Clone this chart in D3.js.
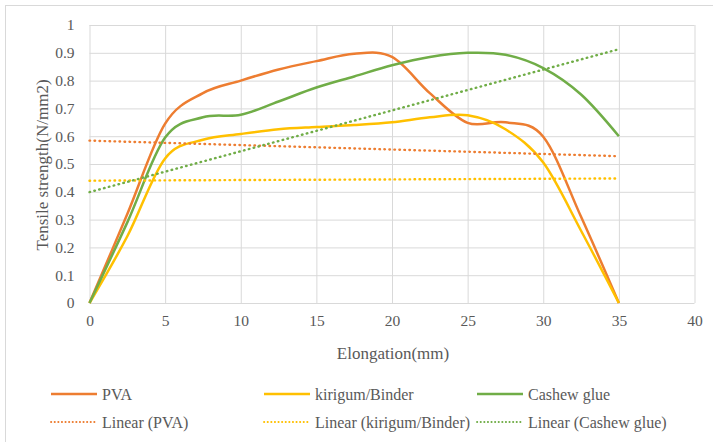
<!DOCTYPE html>
<html>
<head>
<meta charset="utf-8">
<script src="https://cdn.jsdelivr.net/npm/d3@7"></script>
<style>
  body { margin: 0; background: #fff; }
  svg text { font-family: "Liberation Serif", "Times New Roman", Times, "DejaVu Serif", serif; fill: #595959; }
</style>
</head>
<body>
<svg width="713" height="442"></svg>
<script>
// elongation (mm) sample points, shared by the three measured series
const elongation = [0, 2.5, 5, 7.5, 10, 12.5, 15, 17.5, 20, 22.5, 25, 27.5, 30, 32.5, 35];
const pva =     [0, 0.32, 0.645, 0.755, 0.80, 0.84, 0.87, 0.897, 0.885, 0.755, 0.648, 0.65, 0.598, 0.31, 0];
const kirigum = [0, 0.24, 0.52, 0.587, 0.608, 0.625, 0.633, 0.64, 0.65, 0.668, 0.675, 0.625, 0.505, 0.26, 0];
const cashew =  [0, 0.29, 0.595, 0.668, 0.677, 0.725, 0.775, 0.815, 0.855, 0.885, 0.90, 0.893, 0.845, 0.75, 0.60];

// linear trend lines, read at x = 0 and x = 35
const trendX = [0, 35];
const trendPva = [0.584, 0.528];
const trendKirigum = [0.44, 0.448];
const trendCashew = [0.399, 0.913];

const xTicks = [0, 5, 10, 15, 20, 25, 30, 35, 40];
const yTicks = [0, 0.1, 0.2, 0.3, 0.4, 0.5, 0.6, 0.7, 0.8, 0.9, 1];

const seriesNames = ['PVA', 'kirigum/Binder', 'Cashew glue'];
const trendNames = ['Linear (PVA)', 'Linear (kirigum/Binder)', 'Linear (Cashew glue)'];
const colors = ['#ED7D31', '#FFC000', '#70AD47'];

const svg = d3.select('svg');
const width = +svg.attr('width');
const height = +svg.attr('height');

const margin = { top: 25, right: 18.5, bottom: 139, left: 89.5 };
const innerWidth = width - margin.left - margin.right;
const innerHeight = height - margin.top - margin.bottom;

// outer chart border (only top/left visible in frame)
svg.append('rect')
  .attr('x', 5.5).attr('y', 5.5)
  .attr('width', 720).attr('height', 450)
  .attr('fill', 'none')
  .attr('stroke', '#d9d9d9');

const g = svg.append('g')
  .attr('transform', `translate(${margin.left},${margin.top})`);

const xScale = d3.scaleLinear().domain([0, 40]).range([0, innerWidth]);
const yScale = d3.scaleLinear().domain([0, 1]).range([innerHeight, 0]);

const yAxis = d3.axisLeft(yScale)
  .tickValues(yTicks)
  .tickFormat(d3.format('~g'))
  .tickSize(-innerWidth)
  .tickPadding(15);

const xAxis = d3.axisBottom(xScale)
  .tickValues(xTicks)
  .tickSize(-innerHeight)
  .tickPadding(12);

const yAxisG = g.append('g')
  .call(yAxis)
  .attr('font-family', null)
  .attr('font-size', 15.5);
yAxisG.select('.domain').remove();

const xAxisG = g.append('g')
  .attr('transform', `translate(0,${innerHeight})`)
  .call(xAxis)
  .attr('font-family', null)
  .attr('font-size', 15.5);
xAxisG.select('.domain').remove();

g.selectAll('.tick line').attr('stroke', '#d9d9d9');

// axis titles
g.append('text')
  .attr('transform', 'rotate(-90)')
  .attr('x', -(165 - margin.top))
  .attr('y', 42 - margin.left)
  .attr('dy', '0.35em')
  .attr('text-anchor', 'middle')
  .attr('font-size', 17)
  .text('Tensile strength(N/mm2)');

g.append('text')
  .attr('x', 393 - margin.left)
  .attr('y', 353 - margin.top)
  .attr('dy', '0.35em')
  .attr('text-anchor', 'middle')
  .attr('font-size', 17)
  .text('Elongation(mm)');

const line = d3.line()
  .x(d => xScale(d[0]))
  .y(d => yScale(d[1]))
  .curve(d3.curveCardinal.tension(0));

const straight = d3.line()
  .x(d => xScale(d[0]))
  .y(d => yScale(d[1]));

const seriesData = [pva, kirigum, cashew].map(vals => elongation.map((x, i) => [x, vals[i]]));
const trendData = [trendPva, trendKirigum, trendCashew].map(vals => trendX.map((x, i) => [x, vals[i]]));

g.selectAll('.series').data(seriesData)
  .enter().append('path')
    .attr('class', 'series')
    .attr('d', line)
    .attr('fill', 'none')
    .attr('stroke', (d, i) => colors[i])
    .attr('stroke-width', 2.5)
    .attr('stroke-linejoin', 'round');

g.selectAll('.trend').data(trendData)
  .enter().append('path')
    .attr('class', 'trend')
    .attr('d', straight)
    .attr('fill', 'none')
    .attr('stroke', (d, i) => colors[i])
    .attr('stroke-width', 2.4)
    .attr('stroke-linecap', 'round')
    .attr('stroke-dasharray', '0.6 4.4');

// legend
const legendX = [51, 264, 477];
const legendRows = [394, 422];

const legend = svg.append('g').attr('class', 'legend');

seriesNames.forEach((name, i) => {
  legend.append('line')
    .attr('x1', legendX[i]).attr('x2', legendX[i] + 46)
    .attr('y1', legendRows[0]).attr('y2', legendRows[0])
    .attr('stroke', colors[i])
    .attr('stroke-width', 2.5);
  legend.append('text')
    .attr('x', legendX[i] + 51)
    .attr('y', legendRows[0])
    .attr('dy', '0.35em')
    .attr('font-size', 16)
    .text(name);
});

trendNames.forEach((name, i) => {
  legend.append('line')
    .attr('x1', legendX[i]).attr('x2', legendX[i] + 46)
    .attr('y1', legendRows[1]).attr('y2', legendRows[1])
    .attr('stroke', colors[i])
    .attr('stroke-width', 1.8)
    .attr('stroke-linecap', 'round')
    .attr('stroke-dasharray', '0.3 3.3');
  legend.append('text')
    .attr('x', legendX[i] + 51)
    .attr('y', legendRows[1])
    .attr('dy', '0.35em')
    .attr('font-size', 16)
    .text(name);
});
</script>
</body>
</html>
